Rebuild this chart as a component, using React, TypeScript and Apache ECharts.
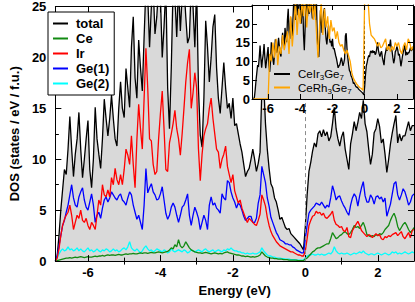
import React, { useEffect, useRef } from "react";
import * as echarts from "echarts";

// Energy grid of the main panel (eV)
const ENERGY = [
  -6.9, -6.85, -6.8, -6.75, -6.7, -6.65, -6.6, -6.55, -6.5, -6.45,
  -6.4, -6.35, -6.3, -6.25, -6.2, -6.15, -6.1, -6.05, -6, -5.95,
  -5.9, -5.85, -5.8, -5.75, -5.7, -5.65, -5.6, -5.55, -5.5, -5.45,
  -5.4, -5.35, -5.3, -5.25, -5.2, -5.15, -5.1, -5.05, -5, -4.95,
  -4.9, -4.85, -4.8, -4.75, -4.7, -4.65, -4.6, -4.55, -4.5, -4.45,
  -4.4, -4.35, -4.3, -4.25, -4.2, -4.15, -4.1, -4.05, -4, -3.95,
  -3.9, -3.85, -3.8, -3.75, -3.7, -3.65, -3.6, -3.55, -3.5, -3.45,
  -3.4, -3.35, -3.3, -3.25, -3.2, -3.15, -3.1, -3.05, -3, -2.95,
  -2.9, -2.85, -2.8, -2.75, -2.7, -2.65, -2.6, -2.55, -2.5, -2.45,
  -2.4, -2.35, -2.3, -2.25, -2.2, -2.15, -2.1, -2.05, -2, -1.95,
  -1.9, -1.85, -1.8, -1.75, -1.7, -1.65, -1.6, -1.55, -1.5, -1.45,
  -1.4, -1.35, -1.3, -1.25, -1.2, -1.15, -1.1, -1.05, -1, -0.95,
  -0.9, -0.85, -0.8, -0.75, -0.7, -0.65, -0.6, -0.55, -0.5, -0.45,
  -0.4, -0.35, -0.3, -0.25, -0.2, -0.15, -0.1, -0.05, 0, 0.05,
  0.1, 0.15, 0.2, 0.25, 0.3, 0.35, 0.4, 0.45, 0.5, 0.55,
  0.6, 0.65, 0.7, 0.75, 0.8, 0.85, 0.9, 0.95, 1, 1.05,
  1.1, 1.15, 1.2, 1.25, 1.3, 1.35, 1.4, 1.45, 1.5, 1.55,
  1.6, 1.65, 1.7, 1.75, 1.8, 1.85, 1.9, 1.95, 2, 2.05,
  2.1, 2.15, 2.2, 2.25, 2.3, 2.35, 2.4, 2.45, 2.5, 2.55,
  2.6, 2.65, 2.7, 2.75, 2.8, 2.85, 2.9, 2.95, 3,
];

const TOTAL = [
  0, 0.5, 2.5, 5, 7, 9, 8.5, 11, 14.2, 11,
  8.3, 10.5, 12, 14.6, 11, 8.2, 10, 12, 13.8, 9,
  7.2, 10, 15.1, 12, 10.5, 9.1, 12, 15.9, 14, 12.3,
  14, 16.3, 14, 12, 11.3, 15, 17.6, 15, 14.1, 18.9,
  17, 15.1, 21, 24, 18, 16, 21.7, 19, 16.7, 22,
  27, 26, 21, 25, 27, 22.3, 24, 27, 26, 20,
  23, 27, 17, 13, 19, 27, 26, 22, 27, 22.6,
  26, 27, 24, 21.4, 22, 27, 25, 21, 27, 17,
  12.4, 11.2, 16, 23.6, 21, 17.6, 20, 23, 24.2, 19,
  16, 14.5, 17, 19.5, 17, 15, 15.5, 14, 16, 13.3,
  13.5, 12.5, 11.5, 10.7, 9.5, 8.3, 8.8, 9.1, 10, 11,
  10, 8.8, 9.6, 10.7, 16.8, 17.5, 13.5, 11, 9.1, 7.6,
  7.2, 6.2, 5.8, 5, 4.1, 4.3, 3.8, 3.3, 3.1, 3.2,
  2.7, 2.5, 2.3, 2.1, 1.9, 1.7, 1.4, 1.1, 3.4, 6.5,
  8.8, 9.7, 10.8, 11.6, 11.2, 12.5, 12.8, 12.2, 12.9, 12.3,
  12.7, 11.8, 12.2, 13.5, 15.1, 13, 12, 11.3, 12.2, 12.7,
  11, 10, 9, 11.5, 12.5, 13.7, 12.8, 13.6, 14.6, 14,
  15.8, 13.5, 12.7, 11, 9.5, 10.5, 12.6, 13, 14, 13.2,
  11.6, 12, 10.5, 8.7, 10, 11.5, 12.6, 13.5, 14.3, 11.6,
  12.5, 11.8, 12.3, 12.3, 13, 13.7, 12.8, 13.3, 13.3,
];

const CE = [
  0, 0.05, 0.1, 0.15, 0.2, 0.25, 0.3, 0.3, 0.35, 0.3,
  0.35, 0.4, 0.35, 0.4, 0.45, 0.4, 0.35, 0.4, 0.45, 0.4,
  0.4, 0.45, 0.5, 0.45, 0.5, 0.5, 0.55, 0.5, 0.55, 0.6,
  0.55, 0.6, 0.6, 0.55, 0.6, 0.65, 0.6, 0.6, 0.65, 0.7,
  0.65, 0.7, 0.7, 0.75, 0.7, 0.7, 0.75, 0.8, 0.75, 0.8,
  0.8, 0.75, 0.8, 0.85, 0.8, 0.8, 0.85, 0.9, 0.85, 0.8,
  0.85, 0.9, 0.95, 1.1, 1.3, 1.2, 1.6, 1.4, 2.1, 1.5,
  1.3, 1.5, 1.9, 1.6, 1.3, 1.1, 1.0, 0.9, 0.85, 0.8,
  0.8, 0.75, 0.8, 0.85, 0.8, 0.75, 0.7, 0.75, 0.8, 0.75,
  0.7, 0.75, 0.7, 0.8, 0.85, 0.9, 0.8, 0.75, 0.7, 0.65,
  0.6, 0.6, 0.55, 0.5, 0.5, 0.45, 0.5, 0.45, 0.4, 0.45,
  0.4, 0.45, 0.5, 0.6, 0.9, 0.7, 0.5, 0.4, 0.35, 0.3,
  0.3, 0.25, 0.25, 0.2, 0.2, 0.2, 0.15, 0.15, 0.15, 0.1,
  0.1, 0.1, 0.1, 0.1, 0.05, 0.05, 0.05, 0.05, 0.2, 0.3,
  0.5, 0.7, 0.9, 1.0, 1.2, 1.3, 1.3, 1.4, 1.5, 1.6,
  1.7, 1.7, 2.2, 2.8, 2.5, 2.2, 2.3, 2.5, 2.6, 2.8,
  2.9, 2.7, 2.6, 2.8, 3.1, 3.5, 3.3, 3.4, 3.2, 3.5,
  3.8, 3.3, 2.6, 2.5, 2.4, 2.5, 2.4, 2.6, 2.5, 2.7,
  2.6, 2.8, 3.1, 3.3, 3.5, 4.0, 4.4, 4.7, 4.2, 3.4,
  3.0, 3.3, 3.6, 3.8, 3.5, 3.1, 2.8, 3.0, 3.3,
];

const IR = [
  0, 0.3, 1.2, 2.5, 3.5, 4.1, 4.5, 4.8, 5.5, 4.5,
  3.1, 3.8, 4.5, 4.2, 5, 4, 3.8, 4.2, 3.5, 3.1,
  3.8, 3.5, 3.1, 4.5, 6, 5.5, 7.5, 6.5, 6.3, 7,
  6.3, 8.2, 7.5, 9.1, 8, 7.5, 8.5, 7.5, 9, 11,
  10.4, 9.5, 12.3, 9.5, 7.2, 11.9, 15.4, 13, 11, 16,
  20.9, 17, 12, 11.8, 9.5, 8.5, 8.8, 12, 14.5, 16.7,
  13, 9, 8.8, 11.6, 12.5, 13.5, 14.8, 13, 12, 10.4,
  12.5, 15, 17.6, 19.5, 20.8, 15, 16.5, 18.5, 17, 11,
  7.9, 10.5, 12.3, 13, 13.5, 15, 16, 14, 12.5, 11,
  10.7, 9.1, 10, 10.5, 11.3, 9.3, 8.5, 7.7, 8.5, 6.9,
  6.3, 5.7, 6, 5.2, 4.7, 4.2, 3.8, 4.2, 4, 3.8,
  3.6, 3.5, 4, 4.6, 6.5, 6, 5.4, 4.3, 3.5, 2.9,
  2.5, 2.2, 1.9, 1.7, 1.5, 1.4, 1.3, 1.2, 1.1, 1.0,
  0.9, 0.9, 0.8, 0.7, 0.6, 0.6, 0.5, 0.5, 1.0, 2.2,
  3.5, 4, 4.4, 4.5, 4.9, 4.7, 4.8, 4.5, 4.7, 4.3,
  4.2, 4.4, 4.6, 4.9, 4, 3.6, 3.5, 3.3, 3.4, 3.0,
  2.9, 3.3, 2.4, 2.3, 3, 3.3, 3.6, 3.9, 3.5, 3.0,
  2.8, 2.6, 2.4, 2.6, 2.5, 2.3, 2.5, 2.7, 2.5, 2.6,
  2.2, 2.1, 2.4, 2.3, 2.5, 2.4, 2.6, 2.7, 2.8, 2.5,
  2.7, 2.9, 2.4, 2.2, 2.5, 2.8, 2.3, 3.0, 3.1,
];

const GE1 = [
  0, 0.5, 1.5, 2.5, 3.5, 4, 4.8, 5.5, 6.5, 7.5,
  6.2, 5.5, 5.3, 6.3, 6.8, 7.2, 6, 5.3, 5, 5.8,
  6.6, 5.5, 3.8, 4.5, 4.8, 4.2, 5.2, 6, 6.3, 5.8,
  6.2, 6.8, 6.5, 6.2, 6, 6.4, 6.6, 6, 5.8, 5.5,
  6.2, 6.8, 6.5, 5.5, 4.8, 4.1, 4.5, 3.8, 3.1, 5.5,
  9.1, 6.7, 7.2, 7.6, 6.8, 6.5, 6, 6.1, 6.6, 7.3,
  6, 4.7, 4.1, 4.5, 5.3, 5.7, 5.3, 4.5, 3.8, 4.5,
  5.3, 5.5, 6, 6.6, 4.5, 3.5, 4.5, 5.3, 4.8, 4.2,
  3.1, 3.8, 4.5, 4, 3.1, 5.5, 6.3, 5.5, 5.7, 5.2,
  5, 4.7, 6.6, 6.2, 6, 7.9, 7.7, 6.8, 6.2, 5.8,
  5.2, 5.7, 5.5, 5, 4.4, 4, 4.2, 4.4, 4.4, 3.8,
  3.8, 4.2, 5.7, 6.5, 9.3, 8.5, 7.7, 6.2, 5.4, 4.3,
  3.8, 3.3, 2.8, 2.5, 2.1, 2.0, 1.9, 1.7, 1.7, 1.6,
  1.6, 1.4, 1.3, 1.1, 1.0, 0.9, 0.8, 0.8, 2.2, 3.5,
  4.7, 5, 5.2, 5.4, 5.7, 5.6, 5.5, 5.8, 5.5, 5.2,
  5.5, 5.3, 6.2, 7.4, 6.8, 6, 6.3, 6.4, 5.9, 5.5,
  5.2, 4.8, 4.5, 5.5, 6.2, 6.6, 6.3, 5.4, 6.4, 7.2,
  7.8, 6.4, 5.8, 5.8, 6.5, 6.2, 5.6, 6.3, 6.4, 6.1,
  6.3, 5.8, 6.2, 4.4, 5, 5.6, 6.6, 7.6, 7.8, 6.5,
  6, 6.5, 7.1, 6.8, 6.2, 5.5, 5.8, 6.4, 6.6,
];

const GE2 = [
  0, 0.3, 0.7, 1.0, 1.2, 1.0, 1.1, 1.4, 1.1, 1.2,
  1.0, 1.1, 1.3, 1.0, 1.2, 1.0, 0.9, 1.1, 1.3, 1.0,
  1.1, 0.9, 1.0, 1.2, 1.0, 0.9, 1.1, 1.0, 1.2, 1.1,
  0.9, 1.0, 1.2, 1.0, 1.1, 0.9, 1.0, 1.2, 1.3, 1.1,
  1.4, 1.9, 1.3, 1.1, 1.0, 1.2, 1.0, 0.8, 1.0, 1.3,
  1.5, 1.2, 1.0, 1.1, 0.9, 1.0, 1.2, 1.1, 1.0, 0.9,
  1.1, 1.0, 0.8, 0.9, 1.2, 1.0, 0.9, 1.0, 1.1, 1.0,
  0.9, 1.1, 1.0, 0.8, 0.9, 1.1, 1.0, 0.9, 1.0, 1.1,
  1.0, 0.9, 1.1, 1.2, 1.0, 0.9, 1.0, 1.1, 0.9, 1.0,
  1.1, 1.0, 0.9, 1.1, 1.0, 1.2, 1.1, 1.3, 1.1, 1.0,
  1.0, 0.9, 0.9, 0.8, 0.8, 0.7, 0.8, 0.7, 0.7, 0.8,
  0.7, 0.7, 0.8, 0.9, 1.3, 1.0, 0.8, 0.6, 0.5, 0.5,
  0.4, 0.4, 0.3, 0.3, 0.3, 0.25, 0.25, 0.2, 0.2, 0.2,
  0.15, 0.15, 0.15, 0.1, 0.1, 0.1, 0.1, 0.1, 0.3, 0.5,
  0.6, 0.6, 0.7, 0.6, 0.6, 0.7, 0.6, 0.7, 0.6, 0.6,
  0.7, 0.8, 0.7, 0.9, 1.4, 1.0, 0.8, 0.7, 0.8, 0.7,
  0.7, 0.8, 0.7, 0.6, 0.7, 0.8, 0.7, 0.8, 0.9, 0.8,
  1.0, 0.8, 0.7, 0.6, 0.7, 0.7, 0.6, 0.7, 0.8, 0.7,
  0.6, 0.7, 0.8, 0.7, 0.6, 0.7, 0.9, 0.8, 0.9, 0.7,
  0.8, 0.7, 0.8, 0.9, 0.8, 0.7, 0.8, 0.9, 0.8,
];

// Inset: CeRh3Ge7 total DOS on its own grid (eV)
const ENERGY_RH = [
  -6.9, -6.8, -6.7, -6.6, -6.5, -6.4, -6.3, -6.2, -6.1, -6.0,
  -5.9, -5.8, -5.7, -5.6, -5.5, -5.4, -5.3, -5.2, -5.1, -5.0,
  -4.9, -4.8, -4.7, -4.6, -4.5, -4.4, -4.3, -4.2, -4.1, -4.0,
  -3.9, -3.8, -3.7, -3.6, -3.5, -3.4, -3.3, -3.2, -3.1, -3.0,
  -2.9, -2.8, -2.7, -2.6, -2.5, -2.4, -2.3, -2.2, -2.1, -2.0,
  -1.9, -1.8, -1.7, -1.6, -1.5, -1.4, -1.3, -1.2, -1.1, -1.0,
  -0.9, -0.8, -0.7, -0.6, -0.5, -0.4, -0.3, -0.2, -0.1, 0.0,
  0.1, 0.2, 0.3, 0.4, 0.5, 0.6, 0.7, 0.8, 0.9, 1.0,
  1.1, 1.2, 1.3, 1.4, 1.5, 1.6, 1.7, 1.8, 1.9, 2.0,
  2.1, 2.2, 2.3, 2.4, 2.5, 2.6, 2.7, 2.8, 2.9, 3.0,
];

const RH = [
  0, 0, 0, 0, 0, 0, 0, 0, 0, 0,
  12, 10, 15, 11, 16, 9, 14, 12, 17, 13,
  15, 18, 12, 22, 14, 19, 26, 17, 24, 20,
  26, 22, 27, 19, 26, 23, 27, 21, 26, 18,
  11, 20, 26, 17, 24, 19, 22, 16, 21, 18,
  19, 16, 18, 15, 14, 14.5, 13, 12, 13, 11.5,
  10, 7, 5.5, 4.7, 4, 3.5, 3, 2.8, 2.3, 27,
  27, 27, 20, 17, 16.5, 16, 15, 14, 15, 13.6,
  14, 15, 16, 13, 14, 12.6, 14, 13, 15, 14,
  15, 13, 12, 14, 15, 13, 16, 15, 13, 14,
];

const MAIN_X_MAJOR = [-6, -4, -2, 0, 2];
const MAIN_X_MINOR = [-5, -3, -1, 1];
const INSET_X_MAJOR = [-6, -4, -2, 0, 2];
const INSET_Y_LABELS = [0, 5, 10, 15, 20];
const LEGEND_MAIN = ["total", "Ce", "Ir", "Ge(1)", "Ge(2)"];
const LEGEND_INSET = ["CeIr3Ge7", "CeRh3Ge7"];

const FONT = "'Liberation Sans', Arial, Helvetica, sans-serif";

const pairs = (xs: number[], ys: number[]) => xs.map((x, i) => [x, ys[i]]);

const labelStyle = {
  color: "#000",
  fontFamily: FONT,
  fontWeight: "bold" as const,
  fontSize: 13,
};

const lineAx = { show: true, onZero: false, lineStyle: { color: "#000", width: 1 } };

export default function App() {
  const ref = useRef<HTMLDivElement>(null);

  useEffect(() => {
    document.body.style.margin = "0";
    const chart = echarts.init(ref.current!, null, { renderer: "svg" });

    const mkLine = (name: string, color: string, data: number[], z = 2) => ({
      type: "line",
      name,
      xAxisIndex: 0,
      yAxisIndex: 0,
      data: pairs(ENERGY, data),
      symbol: "none",
      z,
      lineStyle: { color, width: 1.3 },
      itemStyle: { color },
    });

    const option: any = {
      animation: false,
      backgroundColor: "#fff",
      grid: [
        { left: 43, top: 5, width: 371, height: 265, show: false },
        {
          left: 252,
          top: 5,
          width: 161,
          height: 94,
          show: true,
          backgroundColor: "#fff",
          borderWidth: 0,
          z: 5,
        },
      ],
      xAxis: [
        {
          type: "value",
          gridIndex: 0,
          min: -6.9,
          max: 3,
          position: "bottom",
          z: 3,
          axisLine: lineAx,
          axisTick: { show: true, inside: true, length: 6, customValues: MAIN_X_MAJOR, lineStyle: { color: "#000" } },
          axisLabel: { show: true, customValues: MAIN_X_MAJOR, margin: 5, ...labelStyle },
          splitLine: { show: false },
          name: "Energy (eV)",
          nameLocation: "middle",
          nameGap: 16,
          nameTextStyle: labelStyle,
        },
        {
          type: "value",
          gridIndex: 0,
          min: -6.9,
          max: 3,
          position: "bottom",
          z: 3,
          axisLine: { show: false },
          axisTick: { show: true, inside: true, length: 3.5, customValues: MAIN_X_MINOR, lineStyle: { color: "#000" } },
          axisLabel: { show: false },
          splitLine: { show: false },
        },
        {
          type: "value",
          gridIndex: 0,
          min: -6.9,
          max: 3,
          position: "top",
          z: 3,
          axisLine: lineAx,
          axisTick: { show: true, inside: true, length: 6, customValues: MAIN_X_MAJOR, lineStyle: { color: "#000" } },
          axisLabel: { show: false },
          splitLine: { show: false },
        },
        {
          type: "value",
          gridIndex: 0,
          min: -6.9,
          max: 3,
          position: "top",
          z: 3,
          axisLine: { show: false },
          axisTick: { show: true, inside: true, length: 3.5, customValues: MAIN_X_MINOR, lineStyle: { color: "#000" } },
          axisLabel: { show: false },
          splitLine: { show: false },
        },
        {
          type: "value",
          gridIndex: 1,
          min: -7,
          max: 3,
          position: "bottom",
          z: 7,
          axisLine: lineAx,
          axisTick: { show: true, inside: true, length: 5, customValues: INSET_X_MAJOR, lineStyle: { color: "#000" } },
          axisLabel: { show: true, customValues: INSET_X_MAJOR, margin: 3, ...labelStyle },
          splitLine: { show: false },
        },
        {
          type: "value",
          gridIndex: 1,
          min: -7,
          max: 3,
          position: "top",
          z: 7,
          axisLine: lineAx,
          axisTick: { show: true, inside: true, length: 5, customValues: INSET_X_MAJOR, lineStyle: { color: "#000" } },
          axisLabel: { show: false },
          splitLine: { show: false },
        },
      ],
      yAxis: [
        {
          type: "value",
          gridIndex: 0,
          min: 0,
          max: 25,
          interval: 5,
          position: "left",
          z: 3,
          axisLine: lineAx,
          axisTick: { show: true, inside: true, length: 6, lineStyle: { color: "#000" } },
          minorTick: { show: true, splitNumber: 2, length: 3.5, lineStyle: { color: "#000" } },
          axisLabel: { show: true, margin: 9, ...labelStyle },
          splitLine: { show: false },
          minorSplitLine: { show: false },
          name: "DOS (states / eV / f.u.)",
          nameLocation: "middle",
          nameGap: 24,
          nameRotate: 90,
          nameTextStyle: labelStyle,
        },
        {
          type: "value",
          gridIndex: 0,
          min: 0,
          max: 25,
          interval: 5,
          position: "right",
          z: 3,
          axisLine: lineAx,
          axisTick: { show: true, inside: true, length: 6, lineStyle: { color: "#000" } },
          minorTick: { show: true, splitNumber: 2, length: 3.5, lineStyle: { color: "#000" } },
          axisLabel: { show: false },
          splitLine: { show: false },
          minorSplitLine: { show: false },
        },
        {
          type: "value",
          gridIndex: 1,
          min: 0,
          max: 25,
          interval: 5,
          position: "left",
          z: 7,
          axisLine: lineAx,
          axisTick: { show: true, inside: true, length: 5, lineStyle: { color: "#000" } },
          axisLabel: { show: true, customValues: INSET_Y_LABELS, margin: 2, ...labelStyle },
          splitLine: { show: false },
        },
        {
          type: "value",
          gridIndex: 1,
          min: 0,
          max: 25,
          interval: 5,
          position: "right",
          z: 7,
          axisLine: lineAx,
          axisTick: { show: true, inside: true, length: 5, lineStyle: { color: "#000" } },
          axisLabel: { show: false },
          splitLine: { show: false },
        },
      ],
      legend: [
        {
          data: LEGEND_MAIN,
          orient: "vertical",
          left: 48,
          top: 12,
          padding: [5, 5, 5, 5],
          itemGap: 2,
          itemWidth: 15,
          itemHeight: 2,
          icon: "rect",
          backgroundColor: "#fff",
          borderColor: "#000",
          borderWidth: 1,
          borderRadius: 0,
          selectedMode: false,
          z: 4,
          textStyle: { ...labelStyle, lineHeight: 13, padding: [0, 0, 0, 3] },
        },
        {
          data: LEGEND_INSET,
          orient: "vertical",
          left: 274,
          top: 68,
          padding: 0,
          itemGap: 0,
          itemWidth: 16,
          itemHeight: 2,
          icon: "rect",
          selectedMode: false,
          z: 9,
          formatter: (name: string) =>
            name === "CeIr3Ge7" ? "{n|CeIr}{s|3}{n|Ge}{s|7}" : "{n|CeRh}{s|3}{n|Ge}{s|7}",
          textStyle: {
            color: "#000",
            fontFamily: FONT,
            fontSize: 11.5,
            padding: [0, 0, 0, 3],
            rich: {
              n: { fontFamily: FONT, fontSize: 11.5, color: "#000", lineHeight: 15, verticalAlign: "middle" },
              s: { fontFamily: FONT, fontSize: 8, color: "#000", lineHeight: 15, verticalAlign: "bottom" },
            },
          },
        },
      ],
      series: [
        {
          ...mkLine("total", "#000", TOTAL, 2),
          areaStyle: { color: "#d9d9d9", opacity: 1 },
          markLine: {
            silent: true,
            symbol: ["none", "none"],
            label: { show: false },
            lineStyle: { color: "#8c8c8c", type: [4, 3], width: 1 },
            data: [{ xAxis: 0 }],
          },
        },
        mkLine("Ge(2)", "#00ffff", GE2, 2),
        mkLine("Ce", "#128a12", CE, 2),
        mkLine("Ge(1)", "#0000ff", GE1, 2),
        mkLine("Ir", "#ff0000", IR, 2),
        {
          type: "line",
          name: "CeIr3Ge7",
          xAxisIndex: 4,
          yAxisIndex: 2,
          data: pairs(ENERGY, TOTAL),
          symbol: "none",
          z: 6,
          lineStyle: { color: "#000", width: 1.3 },
          itemStyle: { color: "#000" },
          areaStyle: { color: "#d9d9d9", opacity: 1 },
        },
        {
          type: "line",
          name: "CeRh3Ge7",
          xAxisIndex: 4,
          yAxisIndex: 2,
          data: pairs(ENERGY_RH, RH),
          symbol: "none",
          z: 6,
          lineStyle: { color: "#ffa500", width: 1.3 },
          itemStyle: { color: "#ffa500" },
          markLine: {
            silent: true,
            symbol: ["none", "none"],
            label: { show: false },
            lineStyle: { color: "#000", type: [3, 2], width: 1 },
            data: [{ xAxis: 0 }],
          },
        },
      ],
    };

    chart.setOption(option);
    return () => chart.dispose();
  }, []);

  return <div ref={ref} style={{ width: 415, height: 302 }} />;
}
